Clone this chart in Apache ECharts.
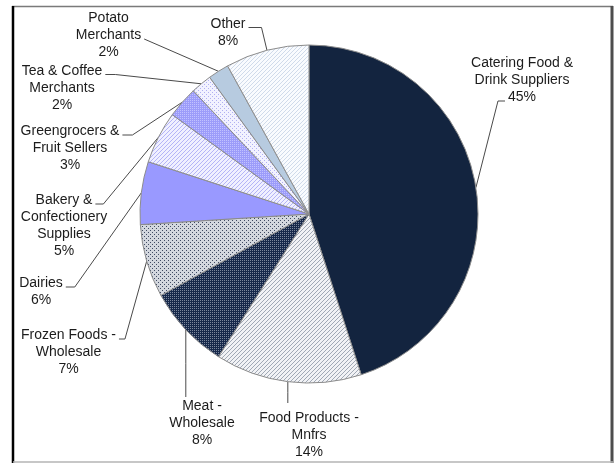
<!DOCTYPE html>
<html>
<head>
<meta charset="utf-8">
<script src="https://cdn.jsdelivr.net/npm/echarts@6/dist/echarts.min.js"></script>
<style>
  html, body { margin: 0; padding: 0; background: #ffffff; }
  #chart { width: 615px; height: 463px; }
</style>
</head>
<body>
<div id="chart"></div>
<script>
// Supplier categories (label text wraps where the line breaks are)
const categories = [
  'Catering Food &\nDrink Suppliers',
  'Food Products -\nMnfrs',
  'Meat -\nWholesale',
  'Frozen Foods -\nWholesale',
  'Dairies',
  'Bakery &\nConfectionery\nSupplies',
  'Greengrocers &\nFruit Sellers',
  'Tea & Coffee\nMerchants',
  'Potato\nMerchants',
  'Other'
];
// Share of spend, percent
const shares = [45, 14, 8, 7, 6, 5, 3, 2, 2, 8];

const FONT = '"Liberation Sans", Arial, sans-serif';
const FONT_SIZE = 14;
const LINE_H = 17;

// Small tiled fills for the textured slices
function pattern(bg, fg, cells, size) {
  const n = size || 4;
  const c = document.createElement('canvas');
  c.width = n; c.height = n;
  const g = c.getContext('2d');
  g.fillStyle = bg; g.fillRect(0, 0, n, n);
  g.fillStyle = fg;
  cells.forEach(function (p) { g.fillRect(p[0], p[1], 1, 1); });
  return { image: c, repeat: 'repeat' };
}
const diagUp = [[3, 0], [2, 1], [1, 2], [0, 3]];
const dotGrid = [[0, 0], [2, 0], [0, 2], [2, 2]];
const dotPair = [[0, 0], [2, 2]];

const sliceFills = [
  '#13243f',                                   // solid navy
  pattern('#f1f2f5', '#a0a8b5', diagUp),       // white, grey diagonal
  pattern('#16284a', '#7b879c', dotGrid),      // navy, light grid
  pattern('#d3d7de', '#3f4a62', dotPair),      // light grey, dark dots
  '#9999ff',                                   // solid lavender
  pattern('#f0f0ff', '#b4b4f7', diagUp),       // white, lavender diagonal
  pattern('#9c9cfa', '#c2c2ff', dotGrid),      // lavender, pale grid
  pattern('#f2f2ff', '#b0b0f2', dotPair),      // white, lavender dots
  '#b7cbe0',                                   // solid light steel blue
  pattern('#f9fbfe', '#cfdaea', diagUp)        // white, pale blue diagonal
];

// Label placement: centre x, middle of first line, which side the leader joins
const labelSpots = [
  { cx: 522,   mid: 63.5,  side: 'left',  line: 2, stub: 7 },
  { cx: 309,   mid: 418.5, side: 'top',   gap: 7 },
  { cx: 202,   mid: 406.5, side: 'top',   gap: 1 },
  { cx: 68.5,  mid: 335.5, side: 'right', line: 0, stub: 6 },
  { cx: 41,    mid: 283.5, side: 'right', line: 0, stub: 9 },
  { cx: 64,    mid: 200.5, side: 'right', line: 0, stub: 8 },
  { cx: 70,    mid: 131.5, side: 'right', line: 0, stub: 10 },
  { cx: 62,    mid: 71,    side: 'right', line: 0, stub: 10 },
  { cx: 108.5, mid: 18.5,  side: 'right', line: 1, stub: 0 },
  { cx: 228,   mid: 24,    side: 'right', line: 0, stub: 13 }
];

const measureCtx = document.createElement('canvas').getContext('2d');
measureCtx.font = FONT_SIZE + 'px ' + FONT;
function textWidth(s) { return measureCtx.measureText(s).width; }

const pieData = categories.map(function (name, i) {
  return { name: name, value: shares[i], itemStyle: { color: sliceFills[i] } };
});

const chart = echarts.init(document.getElementById('chart'), null, { renderer: 'canvas' });

chart.setOption({
  animation: false,
  backgroundColor: '#ffffff',
  graphic: [
    { type: 'line', shape: { x1: 12, y1: 6.5, x2: 613, y2: 6.5 }, style: { stroke: '#7a7a7a', lineWidth: 1.5 } },
    { type: 'line', shape: { x1: 13, y1: 6, x2: 13, y2: 463 }, style: { stroke: '#000000', lineWidth: 2.5 } },
    { type: 'line', shape: { x1: 612, y1: 6, x2: 612, y2: 463 }, style: { stroke: '#4d4d4d', lineWidth: 3 } },
    { type: 'line', shape: { x1: 13, y1: 462, x2: 613, y2: 462 }, style: { stroke: '#b4b4b4', lineWidth: 1.5 } }
  ],
  series: [{
    type: 'pie',
    center: [309, 214],
    radius: 169,
    startAngle: 90,
    clockwise: true,
    avoidLabelOverlap: false,
    silent: true,
    data: pieData,
    itemStyle: { borderColor: '#8c8c8c', borderWidth: 1 },
    label: {
      show: true,
      position: 'outside',
      formatter: '{b}\n{c}%',
      fontFamily: FONT,
      fontSize: FONT_SIZE,
      lineHeight: LINE_H,
      color: '#1c1c1c',
      align: 'center'
    },
    labelLine: {
      show: true,
      length: 10,
      length2: 10,
      smooth: false,
      lineStyle: { color: '#4a4a4a', width: 1 }
    },
    labelLayout: function (p) {
      const i = p.dataIndex;
      const s = labelSpots[i];
      const lines = (categories[i] + '\n' + shares[i] + '%').split('\n');
      const top = s.mid - LINE_H / 2;
      const arc = p.labelLinePoints[0];
      let pts;
      if (s.side === 'top') {
        const endY = top - s.gap;
        pts = [arc, [arc[0], (arc[1] + endY) / 2], [arc[0], endY]];
      } else {
        const dir = s.side === 'right' ? 1 : -1;
        const y = top + LINE_H * s.line + 12;
        const x0 = s.cx + dir * (textWidth(lines[s.line]) / 2 + 3);
        pts = [arc, [x0 + dir * s.stub, y], [x0, y]];
      }
      return {
        x: s.cx,
        y: top,
        align: 'center',
        verticalAlign: 'top',
        labelLinePoints: pts
      };
    }
  }]
});
</script>
</body>
</html>
